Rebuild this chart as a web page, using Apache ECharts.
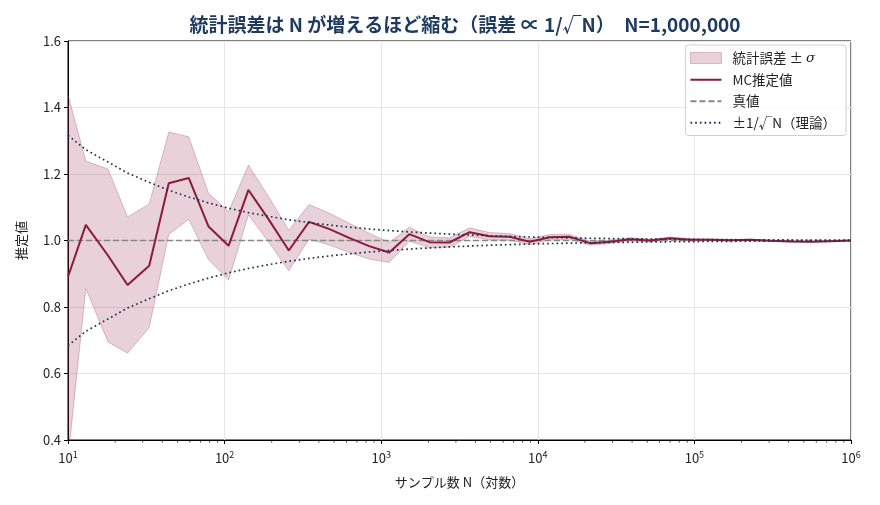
<!DOCTYPE html>
<html>
<head>
<meta charset="utf-8">
<script src="https://cdn.jsdelivr.net/npm/echarts@6/dist/echarts.min.js"></script>
<style>
  html, body { margin: 0; padding: 0; background: #fff; }
  #chart { width: 880px; height: 505px; }
</style>
</head>
<body>
<div id="chart"></div>
<script>
// モンテカルロ推定値の収束（対数スケール）
var chart = echarts.init(document.getElementById('chart'), null, { renderer: 'canvas' });

// サンプル数 N
var sampleN = [10, 13, 18, 24, 33, 44, 59, 79, 106, 142, 192, 257, 346, 464, 624, 838,
  1125, 1512, 2031, 2729, 3666, 4924, 6615, 8886, 11938, 16037, 21544, 28943, 38882,
  52233, 70170, 94267, 126638, 170125, 228546, 307029, 412463, 554102, 744380, 1000000];
// MC推定値
var estimate = [0.891, 1.047, 0.955, 0.866, 0.924, 1.172, 1.188, 1.042, 0.984, 1.152,
  1.062, 0.970, 1.056, 1.035, 1.008, 0.983, 0.964, 1.019, 0.995, 0.994,
  1.025, 1.013, 1.011, 0.996, 1.010, 1.011, 0.992, 0.996, 1.004, 1.000,
  1.007, 1.002, 1.002, 1.001, 1.002, 0.999, 0.997, 0.996, 0.998, 1.000];
// 統計誤差 σ
var sigma = [0.547, 0.192, 0.260, 0.205, 0.186, 0.154, 0.124, 0.100, 0.103, 0.075,
  0.068, 0.061, 0.052, 0.048, 0.044, 0.039, 0.030, 0.021, 0.016, 0.014,
  0.013, 0.011, 0.010, 0.009, 0.008, 0.007, 0.006, 0.005, 0.0045, 0.004,
  0.0035, 0.003, 0.0025, 0.002, 0.002, 0.0015, 0.0013, 0.0011, 0.0009, 0.0008];
// 理論 1/√N
var theory = [0.316, 0.273, 0.236, 0.203, 0.175, 0.151, 0.131, 0.113, 0.0972, 0.0839,
  0.0724, 0.0625, 0.0539, 0.0465, 0.0401, 0.0346, 0.0299, 0.0258, 0.0222, 0.0192,
  0.0166, 0.0143, 0.0123, 0.0106, 0.0092, 0.0079, 0.0068, 0.0059, 0.0051, 0.0044,
  0.0038, 0.0033, 0.0028, 0.0024, 0.0021, 0.0018, 0.0016, 0.0014, 0.0012, 0.0010];
var trueValue = 1.0;

var FONT = '"Noto Sans CJK JP", "Noto Sans", sans-serif';
var RED = '#8b1a3c';
var BAND = 'rgba(139, 26, 60, 0.2)';
var NAVY = '#1f3552';

var bandData = [], estData = [], upData = [], downData = [];
for (var i = 0; i < sampleN.length; i++) {
  bandData.push([sampleN[i], estimate[i] - sigma[i], estimate[i] + sigma[i]]);
  estData.push([sampleN[i], estimate[i]]);
  upData.push([sampleN[i], trueValue + theory[i]]);
  downData.push([sampleN[i], trueValue - theory[i]]);
}
var trueData = [[10, trueValue], [1000000, trueValue]];

// 対数軸の補助目盛 (2..9 × 10^n)
var minorTicks = [];
for (var d = 1; d < 6; d++) {
  for (var k = 2; k <= 9; k++) minorTicks.push([k * Math.pow(10, d), 0.4]);
}

// ±σ 帯を1つの多角形として描く
function renderBand(params, api) {
  if (params.dataIndex !== 0) return null;
  var top = [], bottom = [];
  for (var j = 0; j < bandData.length; j++) {
    top.push(api.coord([bandData[j][0], bandData[j][2]]));
    bottom.push(api.coord([bandData[j][0], bandData[j][1]]));
  }
  var pts = top.concat(bottom.reverse());
  var cs = params.coordSys;
  return {
    type: 'polygon',
    shape: { points: pts },
    clipPath: { type: 'rect', shape: { x: cs.x, y: cs.y, width: cs.width, height: cs.height } },
    style: { fill: BAND, stroke: 'rgba(139,26,60,0.25)', lineWidth: 1 }
  };
}

var option = {
  backgroundColor: '#fff',
  animation: false,
  textStyle: { fontFamily: FONT },
  title: {
    text: '統計誤差は N が増えるほど縮む（誤差 ∝ 1/√N）　N=1,000,000',
    left: 460,
    textAlign: 'center',
    top: 10,
    textStyle: { fontFamily: FONT, fontSize: 19, fontWeight: 'bold', color: '#1f3a5f' }
  },
  grid: {
    left: 68, right: 29, top: 41, bottom: 65,
    show: true, borderColor: '#000', borderWidth: 1, backgroundColor: 'transparent'
  },
  legend: {
    orient: 'vertical',
    right: 34, top: 45,
    padding: [6, 10, 6, 4],
    backgroundColor: 'rgba(255,255,255,0.85)',
    borderColor: '#d0d0d0', borderWidth: 1, borderRadius: 3,
    itemWidth: 31, itemHeight: 11, itemGap: 8,
    textStyle: {
      fontFamily: FONT, fontSize: 13.5, color: '#222', padding: [0, 0, 0, 6],
      rich: { i: { fontFamily: 'DejaVu Serif', fontStyle: 'italic', fontSize: 13.5, color: '#222' } }
    },
    formatter: function (name) {
      return name === '統計誤差 ± σ' ? '統計誤差 ± {i|σ}' : name;
    },
    data: [
      { name: '統計誤差 ± σ', icon: 'rect', itemStyle: { color: BAND, borderColor: 'rgba(139,26,60,0.25)', borderWidth: 1 } },
      { name: 'MC推定値', itemStyle: { opacity: 0 } },
      { name: '真値', itemStyle: { opacity: 0 } },
      { name: '±1/√N（理論）', itemStyle: { opacity: 0 } }
    ]
  },
  xAxis: {
    type: 'log', logBase: 10, min: 10, max: 1000000,
    name: 'サンプル数 N（対数）', nameLocation: 'middle', nameGap: 36,
    nameTextStyle: { fontFamily: FONT, fontSize: 13, color: '#222' },
    axisLine: { show: true, lineStyle: { color: '#000', width: 1 } },
    axisTick: { show: true, inside: false, length: 4, lineStyle: { color: '#000' } },
    splitLine: { show: true, lineStyle: { color: '#e6e6e6', width: 1 } },
    minorTick: { show: false },
    axisLabel: {
      color: '#222', margin: 10,
      formatter: function (v) {
        return '{b|10}{s|' + Math.round(Math.log10(v)) + '}';
      },
      rich: {
        b: { fontFamily: FONT, fontSize: 13, color: '#222' },
        s: { fontFamily: FONT, fontSize: 9, color: '#222', padding: [0, 0, 8, 0] }
      }
    }
  },
  yAxis: {
    type: 'value', min: 0.4, max: 1.6, interval: 0.2,
    name: '推定値', nameLocation: 'middle', nameGap: 40, nameRotate: 90,
    nameTextStyle: { fontFamily: FONT, fontSize: 13, color: '#222' },
    axisLine: { show: true, lineStyle: { color: '#000', width: 1 } },
    axisTick: { show: true, inside: false, length: 4, lineStyle: { color: '#000' } },
    splitLine: { show: true, lineStyle: { color: '#e6e6e6', width: 1 } },
    axisLabel: {
      fontFamily: FONT, fontSize: 13, color: '#222', margin: 7,
      formatter: function (v) { return v.toFixed(1); }
    }
  },
  series: [
    {
      name: '統計誤差 ± σ', type: 'custom', data: bandData, renderItem: renderBand,
      encode: { x: 0, y: [1, 2] }, silent: true, z: 1,
      itemStyle: { color: BAND }
    },
    {
      name: '真値', type: 'line', data: trueData, symbol: 'none', z: 2,
      itemStyle: { color: '#888' },
      lineStyle: { color: '#888', width: 1.7, type: [6, 3] }
    },
    {
      name: 'MC推定値', type: 'line', data: estData, symbol: 'none', z: 3,
      itemStyle: { color: RED },
      lineStyle: { color: RED, width: 2 }
    },
    {
      name: '±1/√N（理論）', type: 'line', data: upData, symbol: 'none', z: 4,
      itemStyle: { color: NAVY },
      lineStyle: { color: NAVY, width: 1.7, type: [1.7, 3] }
    },
    {
      name: '±1/√N（理論）', type: 'line', data: downData, symbol: 'none', z: 4,
      itemStyle: { color: NAVY },
      lineStyle: { color: NAVY, width: 1.7, type: [1.7, 3] }
    },
    {
      name: '_minor', type: 'scatter', data: minorTicks, silent: true, clip: false,
      symbol: 'rect', symbolSize: [0.8, 2.5], symbolOffset: [0, 1.5],
      itemStyle: { color: '#000' }, z: 5
    }
  ]
};
chart.setOption(option);
</script>
</body>
</html>
